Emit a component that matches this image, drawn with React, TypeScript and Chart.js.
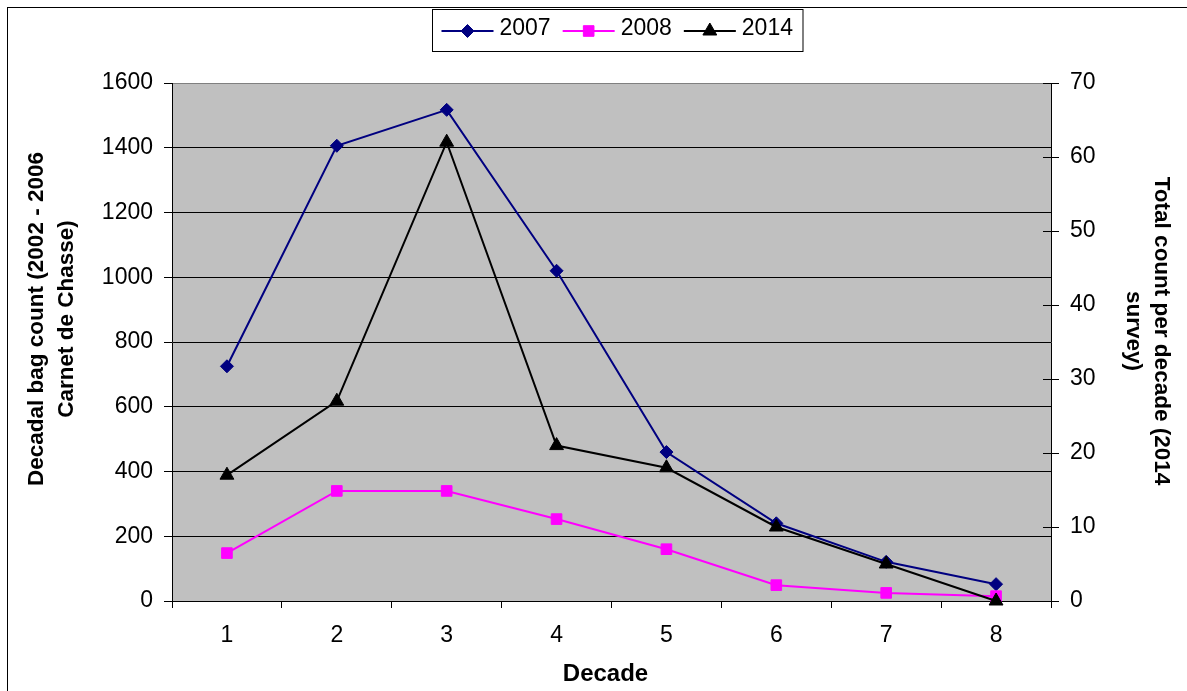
import React, { useEffect, useRef } from 'react';
import { Chart, registerables } from 'chart.js';

Chart.register(...registerables);

// ---- data ----
const decades = ['1', '2', '3', '4', '5', '6', '7', '8'];
const bag2007 = [725, 1406, 1517, 1020, 460, 240, 121, 52];
const bag2008 = [148, 340, 340, 253, 160, 49, 25, 15];
const survey2014 = [17, 27, 62, 21, 18, 10, 5, 0];

const leftAxisMax = 1600;
const leftAxisStep = 200;
const rightAxisMax = 70;
const rightAxisStep = 10;

const leftAxisTitle = ['Decadal bag count (2002 - 2006', 'Carnet de Chasse)'];
const rightAxisTitle = ['Total count per decade (2014', 'survey)'];
const xAxisTitle = 'Decade';

const FONT = '"Liberation Sans", Arial, Helvetica, sans-serif';
const TICK_SIZE = 23;

// ---- drawing helpers ----
function drawMarker(ctx: CanvasRenderingContext2D, style: string, x: number, y: number, r: number, color: string) {
  ctx.save();
  ctx.fillStyle = color;
  ctx.strokeStyle = color;
  ctx.lineWidth = 1;
  ctx.beginPath();
  if (style === 'rectRot') {
    ctx.moveTo(x - r, y);
    ctx.lineTo(x, y - r);
    ctx.lineTo(x + r, y);
    ctx.lineTo(x, y + r);
  } else if (style === 'rect') {
    const s = r * Math.SQRT1_2;
    ctx.rect(x - s, y - s, 2 * s, 2 * s);
  } else {
    let a = 0;
    ctx.moveTo(x + Math.sin(a) * r, y - Math.cos(a) * r);
    a += (2 * Math.PI) / 3;
    ctx.lineTo(x + Math.sin(a) * r, y - Math.cos(a) * r);
    a += (2 * Math.PI) / 3;
    ctx.lineTo(x + Math.sin(a) * r, y - Math.cos(a) * r);
  }
  ctx.closePath();
  ctx.fill();
  ctx.stroke();
  ctx.restore();
}

function drawRotatedLines(
  ctx: CanvasRenderingContext2D,
  lines: string[],
  baselines: number[],
  centerY: number,
  angle: number
) {
  lines.forEach((line, i) => {
    ctx.save();
    ctx.translate(baselines[i], centerY);
    ctx.rotate(angle);
    ctx.textAlign = 'center';
    ctx.textBaseline = 'alphabetic';
    ctx.fillText(line, 0, 0);
    ctx.restore();
  });
}

const excelFrame = {
  id: 'excelFrame',
  beforeDraw(chart: any) {
    const { ctx, chartArea: a, width, height } = chart;
    ctx.save();
    ctx.fillStyle = '#ffffff';
    ctx.fillRect(0, 0, width, height);
    ctx.fillStyle = '#C0C0C0';
    ctx.fillRect(a.left, a.top, a.right - a.left, a.bottom - a.top);
    ctx.restore();
  },
  afterDraw(chart: any) {
    const { ctx, chartArea: a, width, height } = chart;
    ctx.save();

    // outer chart border
    ctx.strokeStyle = '#000';
    ctx.lineWidth = 1;
    ctx.strokeRect(7.5, 7.5, width + 20, height + 20);

    // right axis: tick marks cross into the plot area
    const y1 = chart.scales.y1;
    ctx.beginPath();
    y1.ticks.forEach((t: any) => {
      const py = Math.round(y1.getPixelForValue(t.value)) + 0.5;
      ctx.moveTo(a.right - 8, py);
      ctx.lineTo(a.right, py);
    });
    ctx.stroke();

    // legend with line + marker samples
    ctx.font = `${TICK_SIZE}px ${FONT}`;
    const items = chart.data.datasets.map((ds: any) => ({
      label: ds.label,
      color: ds.borderColor,
      style: ds.pointStyle,
      r: ds.pointRadius,
      w: ctx.measureText(ds.label).width,
    }));
    const lineLen = 52;
    const gapText = 6;
    const gapItem = 12;
    let total = 9 + 10;
    items.forEach((it: any, i: number) => {
      total += lineLen + gapText + it.w + (i < items.length - 1 ? gapItem : 0);
    });
    const boxLeft = Math.round(617.5 - total / 2) + 0.5;
    const boxTop = 9.5;
    const boxH = 42;
    ctx.strokeStyle = '#000';
    ctx.lineWidth = 1;
    ctx.strokeRect(boxLeft, boxTop, total, boxH);
    let x = boxLeft + 9;
    const ly = 31;
    items.forEach((it: any) => {
      ctx.strokeStyle = it.color;
      ctx.lineWidth = 2;
      ctx.beginPath();
      ctx.moveTo(x, ly);
      ctx.lineTo(x + lineLen, ly);
      ctx.stroke();
      drawMarker(ctx, it.style, x + lineLen / 2, ly, it.r, it.color);
      ctx.fillStyle = '#000';
      ctx.textAlign = 'left';
      ctx.textBaseline = 'middle';
      ctx.fillText(it.label, x + lineLen + gapText, 29);
      x += lineLen + gapText + it.w + gapItem;
    });

    // axis titles
    ctx.fillStyle = '#000';
    ctx.font = `bold 22.5px ${FONT}`;
    drawRotatedLines(ctx, leftAxisTitle, [42.5, 72.5], 319, -Math.PI / 2);
    drawRotatedLines(ctx, rightAxisTitle, [1155, 1127], 331, Math.PI / 2);

    ctx.font = `bold 24px ${FONT}`;
    ctx.textAlign = 'center';
    ctx.textBaseline = 'alphabetic';
    ctx.fillText(xAxisTitle, 605.5, 681);

    ctx.restore();
  },
};

export default function App() {
  const canvasRef = useRef<HTMLCanvasElement>(null);

  useEffect(() => {
    const canvas = canvasRef.current;
    if (!canvas) return;

    const tickFont = { family: FONT, size: TICK_SIZE };
    const plainNumber = (v: any) => String(v);

    const chart = new Chart(canvas, {
      type: 'line',
      data: {
        labels: decades,
        datasets: [
          {
            label: '2007',
            data: bag2007,
            yAxisID: 'y',
            borderColor: '#000080',
            backgroundColor: '#000080',
            borderWidth: 2,
            pointStyle: 'rectRot',
            pointRadius: 6.5,
            pointBorderWidth: 1,
            tension: 0,
            clip: false as any,
            order: 3,
          },
          {
            label: '2008',
            data: bag2008,
            yAxisID: 'y',
            borderColor: '#FF00FF',
            backgroundColor: '#FF00FF',
            borderWidth: 2,
            pointStyle: 'rect',
            pointRadius: 7.5,
            pointBorderWidth: 1,
            tension: 0,
            clip: false as any,
            order: 2,
          },
          {
            label: '2014',
            data: survey2014,
            yAxisID: 'y1',
            borderColor: '#000000',
            backgroundColor: '#000000',
            borderWidth: 2,
            pointStyle: 'triangle',
            pointRadius: 8,
            pointBorderWidth: 1,
            tension: 0,
            clip: false as any,
            order: 1,
          },
        ],
      },
      options: {
        responsive: false,
        animation: false,
        events: [],
        layout: { padding: { top: 83, left: 0, right: 0, bottom: 0 } },
        plugins: {
          legend: { display: false },
          title: { display: false },
          tooltip: { enabled: false },
        },
        scales: {
          x: {
            type: 'category',
            offset: true,
            grid: {
              offset: true,
              drawOnChartArea: false,
              drawTicks: true,
              tickLength: 7,
              color: '#000',
            },
            border: { display: true, color: '#000', width: 1 },
            ticks: { font: tickFont, color: '#000', padding: 14, maxRotation: 0 },
            afterFit: (s: any) => {
              s.height = 90;
            },
          },
          y: {
            position: 'left',
            min: 0,
            max: leftAxisMax,
            ticks: { stepSize: leftAxisStep, font: tickFont, color: '#000', padding: 11, callback: plainNumber },
            grid: {
              color: (c: any) => (c.tick && c.tick.value === leftAxisMax ? '#808080' : '#000'),
              tickColor: '#000',
              tickLength: 8,
              lineWidth: 1,
            },
            border: { display: true, color: '#000', width: 1 },
            afterFit: (s: any) => {
              s.width = 172;
            },
          },
          y1: {
            position: 'right',
            min: 0,
            max: rightAxisMax,
            ticks: { stepSize: rightAxisStep, font: tickFont, color: '#000', padding: 11, callback: plainNumber },
            grid: { drawOnChartArea: false, tickLength: 8, color: '#000' },
            border: { display: true, color: '#000', width: 1 },
            afterFit: (s: any) => {
              s.width = 136;
            },
          },
        },
      },
      plugins: [excelFrame],
    });

    return () => chart.destroy();
  }, []);

  return (
    <div style={{ position: 'fixed', left: 0, top: 0, width: 1187, height: 691, background: '#fff' }}>
      <canvas ref={canvasRef} width={1187} height={691} style={{ display: 'block' }} />
    </div>
  );
}
